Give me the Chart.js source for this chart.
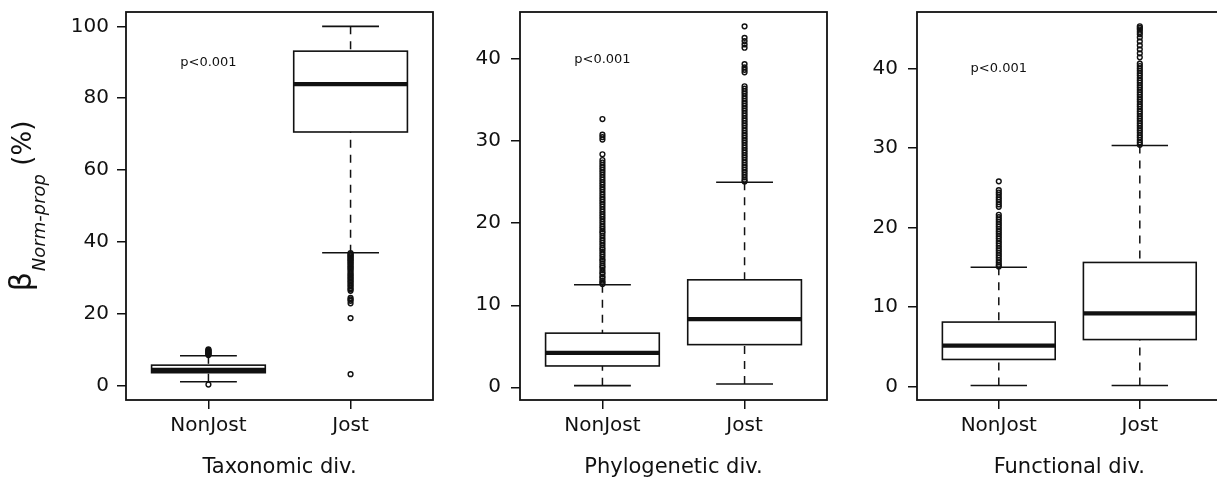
<!DOCTYPE html>
<html><head><meta charset="utf-8">
<script src="https://cdn.jsdelivr.net/npm/chart.js@4.4.1/dist/chart.umd.min.js"></script>
<style>
html,body{margin:0;padding:0;background:#fff;overflow:hidden;width:1217px;height:481px;position:relative}
canvas{position:absolute;top:0}
</style></head><body>
<canvas id="c1" width="440" height="481" style="left:0px"></canvas>
<canvas id="c2" width="395" height="481" style="left:440px"></canvas>
<canvas id="c3" width="392" height="481" style="left:835px"></canvas>
<script>
const categories = ['NonJost', 'Jost'];
const panelTitles = ['Taxonomic div.', 'Phylogenetic div.', 'Functional div.'];
const pLabel = 'p<0.001';
const pLabelY = [90, 40, 40];
const yTicksTax = [0, 20, 40, 60, 80, 100];
const yTicksPhy = [0, 10, 20, 30, 40];
const yTicksFun = [0, 10, 20, 30, 40];
const yLimTax = [-4, 104];
const yLimPhy = [-1.55, 45.75];
const yLimFun = [-1.7, 47.1];

// [lower whisker, Q1, median, Q3, upper whisker]
const taxNonJost = [1.1, 3.6, 4.4, 5.7, 8.3];
const taxJost = [37.0, 70.6, 83.9, 93.1, 100];
const phyNonJost = [0.2, 2.6, 4.2, 6.6, 12.5];
const phyJost = [0.4, 5.2, 8.3, 13.1, 25.0];
const funNonJost = [0.13, 3.4, 5.15, 8.1, 15.0];
const funJost = [0.13, 5.9, 9.2, 15.6, 30.3];

// outliers
const taxNonJostOut = [0.3, 8.5, 8.7, 8.9, 9.1, 9.3, 9.5, 9.7, 9.9, 10.1];
const taxJostOut = [36.9, 36.6, 36.3, 36.0, 35.7, 35.4, 35.1, 34.8, 34.5, 34.1, 33.8, 33.4, 33.0, 32.7, 32.3, 31.9, 31.4, 31.0, 30.6, 30.2, 29.8, 29.4, 29.0, 28.6, 28.1, 27.7, 27.2, 26.8, 26.4, 24.4, 24.0, 23.6, 22.9, 18.8, 3.2];
const phyNonJostOut = [12.6, 12.8, 13.0, 13.3, 13.5, 13.8, 14.0, 14.3, 14.6, 14.8, 15.1, 15.4, 15.6, 15.9, 16.2, 16.5, 16.8, 17.0, 17.3, 17.6, 17.9, 18.2, 18.5, 18.8, 19.0, 19.3, 19.6, 19.9, 20.2, 20.5, 20.8, 21.1, 21.4, 21.7, 22.0, 22.3, 22.6, 22.9, 23.2, 23.5, 23.8, 24.1, 24.4, 24.7, 25.0, 25.3, 25.6, 25.9, 26.2, 26.5, 26.8, 27.1, 27.4, 27.7, 28.4, 30.2, 30.5, 30.8, 32.7];
const phyJostOut = [25.1, 25.3, 25.6, 25.9, 26.2, 26.5, 26.8, 27.1, 27.4, 27.7, 28.0, 28.3, 28.6, 28.9, 29.2, 29.5, 29.8, 30.1, 30.4, 30.7, 31.0, 31.3, 31.6, 31.9, 32.2, 32.5, 32.8, 33.1, 33.4, 33.7, 34.0, 34.3, 34.6, 34.9, 35.2, 35.5, 35.8, 36.1, 36.4, 36.7, 38.4, 38.7, 39.0, 39.4, 41.4, 41.8, 42.2, 42.6, 44.0];
const funNonJostOut = [15.1, 15.3, 15.6, 15.9, 16.2, 16.5, 16.8, 17.1, 17.4, 17.7, 18.0, 18.3, 18.6, 18.9, 19.2, 19.5, 19.8, 20.1, 20.4, 20.7, 21.0, 21.3, 21.6, 22.6, 22.9, 23.2, 23.5, 23.8, 24.1, 24.4, 24.7, 25.8];
const funJostOut = [30.4, 30.7, 31.0, 31.3, 31.6, 31.9, 32.2, 32.5, 32.8, 33.1, 33.4, 33.7, 34.0, 34.3, 34.6, 34.9, 35.2, 35.5, 35.8, 36.1, 36.4, 36.7, 37.0, 37.3, 37.6, 37.9, 38.2, 38.5, 38.8, 39.1, 39.4, 39.7, 40.0, 40.3, 40.6, 41.4, 41.9, 42.4, 42.9, 43.4, 43.9, 44.3, 44.6, 44.9, 45.1, 45.3];

const FONT = "'DejaVu Sans', sans-serif";
const INK = '#111';

function seg(ctx, x1, y1, x2, y2) { ctx.beginPath(); ctx.moveTo(x1, y1); ctx.lineTo(x2, y2); ctx.stroke(); }

function boxPlugin(stats, pY, drawYLabel) {
  return {
    id: 'boxes',
    beforeDatasetsDraw(chart) {
      const {ctx, scales: {x, y}} = chart;
      ctx.save();
      ctx.strokeStyle = INK;
      stats.forEach((s, i) => {
        const cx = x.getPixelForValue(i + 1);
        const hw = x.getPixelForValue(i + 1.4) - cx;
        const [lo, q1, md, q3, hi] = s.map(v => y.getPixelForValue(v));
        ctx.lineWidth = 1.5;
        ctx.setLineDash([8, 7]);
        seg(ctx, cx, lo, cx, q1);
        seg(ctx, cx, hi, cx, q3);
        ctx.setLineDash([]);
        ctx.lineWidth = 1.6;
        seg(ctx, cx - hw / 2, lo, cx + hw / 2, lo);
        seg(ctx, cx - hw / 2, hi, cx + hw / 2, hi);
        ctx.fillStyle = '#fff';
        ctx.fillRect(cx - hw, q3, 2 * hw, q1 - q3);
        ctx.strokeRect(cx - hw, q3, 2 * hw, q1 - q3);
        ctx.lineWidth = 4.2;
        seg(ctx, cx - hw, md, cx + hw, md);
      });
      ctx.fillStyle = INK;
      ctx.font = '13px ' + FONT;
      ctx.textAlign = 'center';
      ctx.textBaseline = 'middle';
      ctx.fillText(pLabel, x.getPixelForValue(1), y.getPixelForValue(pY));
      ctx.restore();
    },
    afterDraw(chart) {
      const {ctx, chartArea: a} = chart;
      ctx.save();
      ctx.strokeStyle = INK;
      ctx.lineWidth = 1.8;
      ctx.strokeRect(a.left, a.top, a.right - a.left, a.bottom - a.top);
      if (drawYLabel) {
        const cy = (a.top + a.bottom) / 2;
        ctx.translate(31, cy);
        ctx.rotate(-Math.PI / 2);
        ctx.fillStyle = INK;
        ctx.textAlign = 'left';
        ctx.textBaseline = 'alphabetic';
        const f1 = '30px ' + FONT, f2 = 'italic 18px ' + FONT, f3 = '26px ' + FONT;
        ctx.font = f1; const w1 = ctx.measureText('β').width + 1;
        ctx.font = f2; const w2 = ctx.measureText('Norm-prop').width;
        ctx.font = f3; const w3 = ctx.measureText(' (%)').width;
        let x0 = -(w1 + w2 + w3) / 2;
        ctx.font = f1; ctx.fillText('β', x0, 0);
        ctx.font = f2; ctx.fillText('Norm-prop', x0 + w1, 14);
        ctx.font = f3; ctx.fillText(' (%)', x0 + w1 + w2, 0);
      }
      ctx.restore();
    }
  };
}

function makePanel(id, stats, outs, yTicks, yLim, title, pY, geom, first) {
  const datasets = outs.map((vals, i) => ({
    data: vals.map(v => ({x: i + 1, y: v})),
    pointStyle: 'circle', pointRadius: 2.4, pointBorderWidth: 1.4,
    borderColor: INK, backgroundColor: 'rgba(0,0,0,0)'
  }));
  const grid = {drawOnChartArea: false, drawTicks: true, tickLength: 9, color: INK, lineWidth: 1.5};
  return new Chart(document.getElementById(id), {
    type: 'scatter',
    data: {datasets},
    options: {
      responsive: false, animation: false, events: [],
      layout: {padding: {top: 12, right: geom.padRight, left: 0, bottom: 0}},
      plugins: {legend: {display: false}, tooltip: {enabled: false}},
      scales: {
        x: {
          type: 'linear', min: 0.42, max: 2.58,
          afterBuildTicks: s => { s.ticks = categories.map((c, i) => ({value: i + 1})); },
          afterFit: s => { s.height = 81; s.paddingLeft = 0; s.paddingRight = 0; },
          ticks: {callback: v => categories[Math.round(v) - 1], font: {family: FONT, size: 20}, color: INK, padding: 5, maxRotation: 0, autoSkip: false},
          grid, border: {display: false},
          title: {display: true, text: title, font: {family: FONT, size: 21}, color: INK, padding: {top: 0, bottom: 1}}
        },
        y: {
          type: 'linear', min: yLim[0], max: yLim[1],
          afterBuildTicks: s => { s.ticks = yTicks.map(v => ({value: v})); },
          afterFit: s => { s.width = geom.yWidth; s.paddingTop = 0; s.paddingBottom = 0; },
          ticks: {callback: v => String(v), font: {family: FONT, size: 20}, color: INK, padding: geom.tickPad, autoSkip: false},
          grid, border: {display: false}
        }
      }
    },
    plugins: [boxPlugin(stats, pY, first)]
  });
}

makePanel('c1', [taxNonJost, taxJost], [taxNonJostOut, taxJostOut], yTicksTax, yLimTax, panelTitles[0], pLabelY[0], {yWidth: 126, padRight: 7, tickPad: 8}, true);
makePanel('c2', [phyNonJost, phyJost], [phyNonJostOut, phyJostOut], yTicksPhy, yLimPhy, panelTitles[1], pLabelY[1], {yWidth: 80, padRight: 8, tickPad: 10}, false);
makePanel('c3', [funNonJost, funJost], [funNonJostOut, funJostOut], yTicksFun, yLimFun, panelTitles[2], pLabelY[2], {yWidth: 82, padRight: 3, tickPad: 10}, false);
</script>
</body></html>
